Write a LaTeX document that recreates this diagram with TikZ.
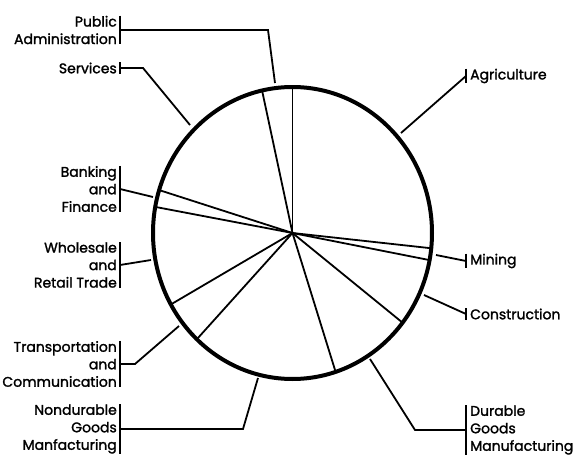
\documentclass[tikz,border=0pt]{standalone}
\usepackage{fontspec}
\setmainfont{Poppins}[BoldFont={Poppins}, BoldFeatures={FakeBold=1.6}]
\begin{document}
\begin{tikzpicture}[x=1pt,y=-1pt,
  lbl/.style={font=\fontsize{14}{17.5}\selectfont\bfseries, inner sep=0pt},
  lblL/.style={lbl, anchor=east, align=right},
  lblR/.style={lbl, anchor=west, align=left},
  rim/.style={line width=4pt},
  spoke/.style={line width=1.8pt},
  conn/.style={line width=1.8pt},
  bar/.style={line width=2pt}]
\useasboundingbox (0,0) rectangle (574,455);
% pie
\coordinate (c) at (292.5,233);
\foreach \t [count=\i] in {90,102.6,162.9,169.7,209.3,226.7,288,322.1,349.3,354}
  \coordinate (s\i) at ({292.5+139.5*cos(\t)},{233-146*sin(\t)});
\foreach \i in {1,...,10} \draw[spoke] (c) -- (s\i);
\draw[rim] (c) ellipse [x radius=139.5pt, y radius=146pt];
% left labels
\node[lblL] (pa) at (117,30) {Public\\Administration};
\node[lblL] (sv) at (117,68) {Services};
\node[lblL] (bf) at (117,189) {Banking\\and\\Finance};
\node[lblL] (wr) at (117,265) {Wholesale\\and\\Retail Trade};
\node[lblL] (tc) at (117,364) {Transportation\\and\\Communication};
\node[lblL] (nd) at (117,429) {Nondurable\\Goods\\Manfacturing};
% right labels
\node[lblR] (ag) at (470,76) {Agriculture};
\node[lblR] (mi) at (470,261) {Mining};
\node[lblR] (co) at (470,314) {Construction};
\node[lblR] (du) at (470,430) {Durable\\Goods\\Manufacturing};
% bars
\foreach \n in {pa,sv,bf,wr,tc,nd}{
  \draw[bar] ([xshift=3pt]\n.north east) -- ([xshift=3pt]\n.south east);
  \coordinate (\n B) at ([xshift=3pt]\n.east);}
\foreach \n in {ag,mi,co,du}{
  \draw[bar] ([xshift=-4pt]\n.north west) -- ([xshift=-4pt]\n.south west);
  \coordinate (\n B) at ([xshift=-4pt]\n.west);}
% connector points
\coordinate (paX) at (268,0);   \coordinate (paE) at (275,83);
\coordinate (svX) at (143,0);   \coordinate (svE) at (190,125);
\coordinate (bfE) at (153,197);
\coordinate (wrE) at (151,260);
\coordinate (tcX) at (135,0);   \coordinate (tcE) at (179,326);
\coordinate (ndX) at (243,0);   \coordinate (ndE) at (258,378);
\coordinate (agE) at (401,133);
\coordinate (miE) at (436,255);
\coordinate (coE) at (424,295);
\coordinate (duX) at (415,0);   \coordinate (duE) at (370,359);
% connectors
\draw[conn] (paB) -- (paB -| paX) -- (paE);
\draw[conn] (svB) -- (svB -| svX) -- (svE);
\draw[conn] (bfB) -- (bfE);
\draw[conn] (wrB) -- (wrE);
\draw[conn] (tcB) -- (tcB -| tcX) -- (tcE);
\draw[conn] (ndB) -- (ndB -| ndX) -- (ndE);
\draw[conn] (agB) -- (agE);
\draw[conn] (miB) -- (miE);
\draw[conn] (coB) -- (coE);
\draw[conn] (duB) -- (duB -| duX) -- (duE);
\end{tikzpicture}
\end{document}
